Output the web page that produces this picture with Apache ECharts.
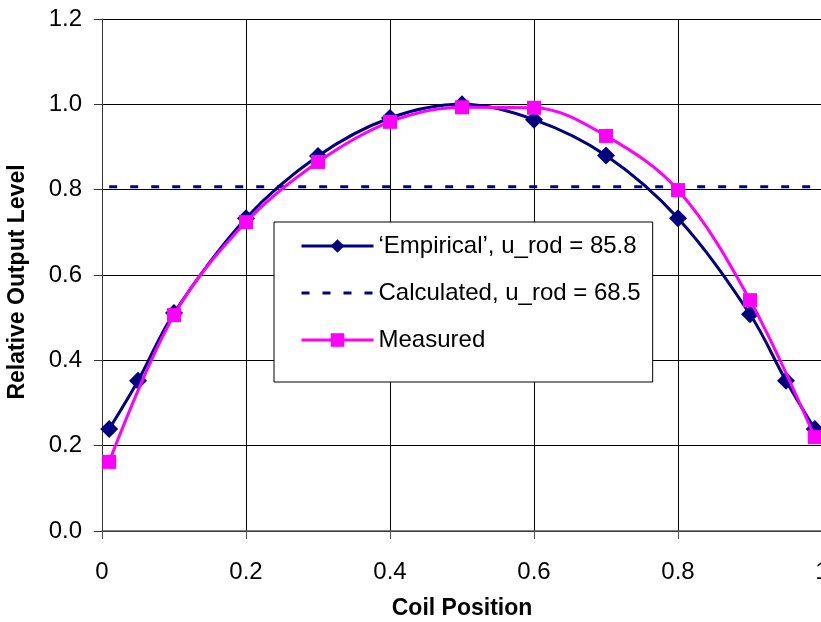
<!DOCTYPE html>
<html>
<head>
<meta charset="utf-8">
<script src="https://cdn.jsdelivr.net/npm/echarts@6/dist/echarts.min.js"></script>
<style>
html,body{margin:0;padding:0;background:#fff;}
#c{width:821px;height:622px;}
</style>
</head>
<body>
<div id="c"></div>
<script>
var empiricalX = [0.01, 0.05, 0.1, 0.2, 0.3, 0.4, 0.5, 0.6, 0.7, 0.8, 0.9, 0.95, 0.99];
var empiricalY = [0.239, 0.352, 0.511, 0.733, 0.879, 0.968, 1.0, 0.964, 0.880, 0.733, 0.508, 0.352, 0.239];
var calculatedX = [0.01, 0.05, 0.1, 0.2, 0.3, 0.4, 0.5, 0.6, 0.7, 0.8, 0.9, 0.95, 0.99];
var calculatedY = [0.807, 0.807, 0.807, 0.807, 0.807, 0.807, 0.807, 0.807, 0.807, 0.807, 0.807, 0.807, 0.807];
var measuredX = [0.01, 0.1, 0.2, 0.3, 0.4, 0.5, 0.6, 0.7, 0.8, 0.9, 0.99];
var measuredY = [0.162, 0.506, 0.724, 0.865, 0.959, 0.993, 0.992, 0.926, 0.799, 0.541, 0.220];
var seriesNames = ["\u2018Empirical\u2019, u_rod = 85.8", "Calculated, u_rod = 68.5", "Measured"];
var xTicks = {0: "0", 0.2: "0.2", 0.4: "0.4", 0.6: "0.6", 0.8: "0.8", 1: "1"};

function pairs(xs, ys) { return xs.map(function (x, i) { return [x, ys[i]]; }); }

var font = "Liberation Sans, Arial, sans-serif";
var chart = echarts.init(document.getElementById('c'));
chart.setOption({
  animation: false,
  backgroundColor: '#fff',
  textStyle: {fontFamily: font},
  grid: {left: 102, top: 19, right: -1, bottom: 91, containLabel: false, outerBoundsMode: 'none'},
  legend: {
    orient: 'vertical',
    left: 274, top: 222,
    padding: [12, 12, 30, 26],
    itemGap: 23,
    itemWidth: 72, itemHeight: 17,
    backgroundColor: '#fff',
    borderColor: '#000', borderWidth: 1,
    lineStyle: {width: 3},
    textStyle: {fontSize: 24, color: '#000', fontFamily: font},
    data: [
      {name: seriesNames[0]},
      {name: seriesNames[1], itemStyle: {opacity: 0}},
      {name: seriesNames[2]}
    ]
  },
  xAxis: {
    type: 'value', min: 0, max: 1, interval: 0.2,
    name: 'Coil Position', nameLocation: 'middle', nameGap: 66,
    nameTextStyle: {fontSize: 23, fontWeight: 'bold', color: '#000', fontFamily: font},
    axisLine: {lineStyle: {color: '#555', width: 1.5}},
    axisTick: {show: true, length: 8, lineStyle: {color: '#555'}},
    axisLabel: {fontSize: 24, color: '#000', margin: 29, fontFamily: font,
      formatter: function (v) { var k = Math.round(v * 10) / 10; return xTicks[k] !== undefined ? xTicks[k] : ''; }},
    splitLine: {show: true, lineStyle: {color: '#000', width: 1}}
  },
  yAxis: {
    type: 'value', min: 0, max: 1.2, interval: 0.2,
    name: 'Relative Output Level', nameLocation: 'middle', nameGap: 73, nameRotate: 90,
    nameTextStyle: {fontSize: 23, fontWeight: 'bold', color: '#000', fontFamily: font, padding: [0, 14, 0, 0]},
    axisLine: {show: true, lineStyle: {color: '#333', width: 1}},
    axisTick: {show: true, length: 8, lineStyle: {color: '#333'}},
    axisLabel: {fontSize: 24, color: '#000', margin: 20, fontFamily: font,
      formatter: function (v) { return v.toFixed(1); }},
    splitLine: {show: true, lineStyle: {color: '#000', width: 1}}
  },
  series: [
    {
      name: seriesNames[0], type: 'line', data: pairs(empiricalX, empiricalY),
      smooth: 0.35, color: '#000080',
      lineStyle: {color: '#000080', width: 3},
      symbol: 'diamond', symbolSize: 18,
      itemStyle: {color: '#000080'}, z: 3
    },
    {
      name: seriesNames[1], type: 'line', data: pairs(calculatedX, calculatedY),
      color: '#000080',
      lineStyle: {color: '#000080', width: 3, type: [8, 13]},
      symbol: 'none', showSymbol: false,
      itemStyle: {color: '#000080'}, z: 2
    },
    {
      name: seriesNames[2], type: 'line', data: pairs(measuredX, measuredY),
      smooth: 0.35, color: '#ff00ff',
      lineStyle: {color: '#ff00ff', width: 3},
      symbol: 'rect', symbolSize: 14,
      itemStyle: {color: '#ff00ff'}, z: 4
    }
  ]
});
</script>
</body>
</html>
